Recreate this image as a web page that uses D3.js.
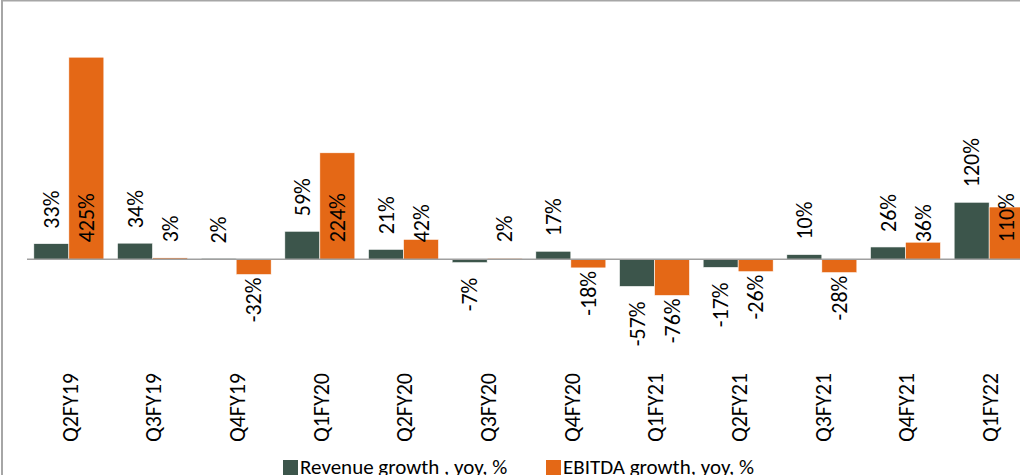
<!DOCTYPE html>
<html>
<head>
<meta charset="utf-8">
<script src="https://cdn.jsdelivr.net/npm/d3@7"></script>
<style>
  body { margin: 0; background: #fff; }
  svg { display: block; font-family: Carlito, Lato, "Liberation Sans", sans-serif; }
</style>
</head>
<body>
<script>
// quarters on the x axis
var quarters = ['Q2FY19', 'Q3FY19', 'Q4FY19', 'Q1FY20', 'Q2FY20', 'Q3FY20',
                'Q4FY20', 'Q1FY21', 'Q2FY21', 'Q3FY21', 'Q4FY21', 'Q1FY22'];

// yoy growth, %
var revenueGrowth = [33, 34, 2, 59, 21, -7, 17, -57, -17, 10, 26, 120];
var ebitdaGrowth = [425, 3, -32, 224, 42, 2, -18, -76, -26, -28, 36, 110];

var seriesNames = ['Revenue growth , yoy, %', 'EBITDA growth, yoy, %'];
var seriesKeys = ['rev', 'ebitda'];
var colors = { rev: '#3C554B', ebitda: '#E46816' };

var svgWidth = 1020;
var svgHeight = 475;

var svg = d3.select('body').append('svg')
  .attr('width', svgWidth)
  .attr('height', svgHeight);

// chart frame (only top and left edges are in view)
svg.append('rect')
  .attr('x', 2).attr('y', 0.5)
  .attr('width', 1100).attr('height', 600)
  .attr('fill', 'none')
  .attr('stroke', '#A6A6A6')
  .attr('stroke-width', 2);

var x0 = d3.scaleBand().domain(quarters).range([27, 1031]);
var x1 = d3.scaleBand().domain(seriesKeys).range([0, x0.bandwidth()]).paddingOuter(0.195);
var y = d3.scaleLinear().domain([-100, 450]).range([306.9, 45.3]);

// build rows for each bar
var rows = [];
quarters.forEach(function(q, i) {
  rows.push({ q: q, key: 'rev', v: revenueGrowth[i] });
  rows.push({ q: q, key: 'ebitda', v: ebitdaGrowth[i] });
});

svg.selectAll('rect.bar').data(rows).enter().append('rect')
  .attr('class', 'bar')
  .attr('x', function(d) { return x0(d.q) + x1(d.key); })
  .attr('width', x1.bandwidth())
  .attr('y', function(d) { return y(Math.max(0, d.v)); })
  .attr('height', function(d) { return Math.abs(y(d.v) - y(0)); })
  .attr('fill', function(d) { return colors[d.key]; })
  .attr('stroke', '#fff')
  .attr('stroke-width', 0.6);

// zero line
svg.append('line')
  .attr('x1', 27).attr('x2', svgWidth)
  .attr('y1', y(0)).attr('y2', y(0))
  .attr('stroke', '#A0A0A0')
  .attr('stroke-width', 1.5);

// data labels: revenue sits outside end, ebitda positives sit at the base
function labelY(d) {
  if (d.key === 'rev') return d.v >= 0 ? y(d.v) - 15 : y(d.v) + 15;
  return d.v >= 0 ? y(0) - 17 : y(d.v) + 3;
}

svg.selectAll('text.val').data(rows).enter().append('text')
  .attr('class', 'val')
  .attr('transform', function(d) {
    var cx = x0(d.q) + x1(d.key) + x1.bandwidth() / 2;
    return 'translate(' + cx + ',' + labelY(d) + ') rotate(-90)';
  })
  .attr('dy', '0.35em')
  .attr('text-anchor', function(d) { return d.v >= 0 ? 'start' : 'end'; })
  .attr('font-size', 22)
  .attr('fill', '#000')
  .text(function(d) { return d.v + '%'; });

// category labels, rotated, at the bottom of the plot
svg.selectAll('text.cat').data(quarters).enter().append('text')
  .attr('class', 'cat')
  .attr('transform', function(d) {
    return 'translate(' + (x0(d) + x0.bandwidth() / 2 + 1) + ',373) rotate(-90)';
  })
  .attr('dy', '0.35em')
  .attr('text-anchor', 'end')
  .attr('font-size', 22)
  .attr('fill', '#000')
  .text(function(d) { return d; });

// legend (runs off the bottom edge, like the source)
var legendX = [283, 546];
var legend = svg.selectAll('g.legend').data(seriesKeys).enter().append('g')
  .attr('class', 'legend')
  .attr('transform', function(d, i) { return 'translate(' + legendX[i] + ',460)'; });

legend.append('rect')
  .attr('width', 15).attr('height', 15)
  .attr('fill', function(d) { return colors[d]; });

legend.append('text')
  .attr('x', 17).attr('y', 14)
  .attr('font-size', 21)
  .attr('fill', '#000')
  .text(function(d, i) { return seriesNames[i]; });
</script>
</body>
</html>
